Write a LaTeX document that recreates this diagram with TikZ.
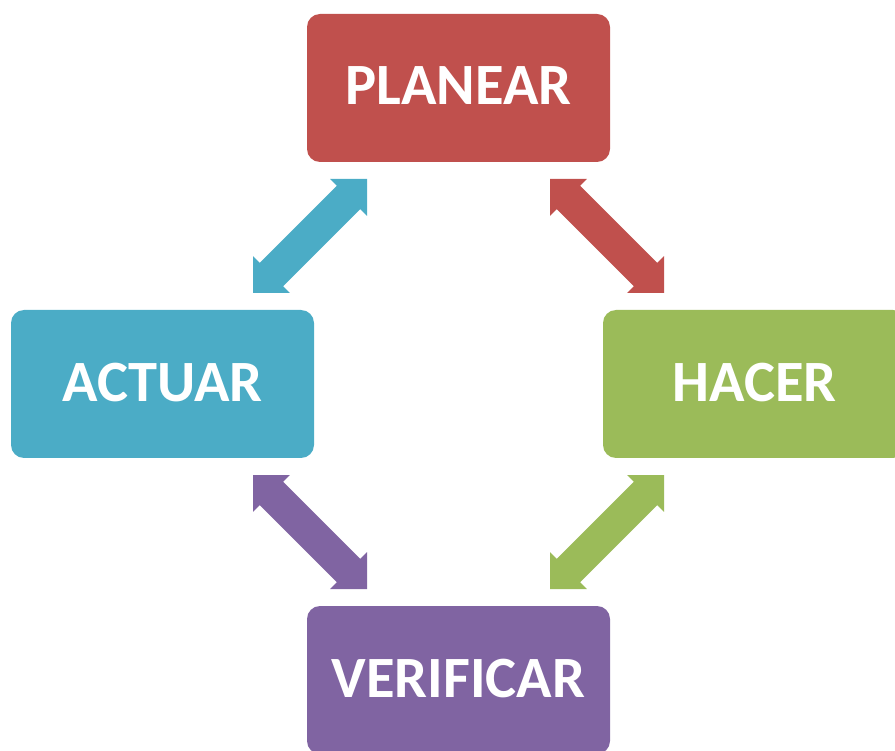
\documentclass[tikz,border=0pt]{standalone}
\usepackage{fontspec}
\setmainfont{Carlito}
\usetikzlibrary{calc}
\definecolor{cred}{HTML}{C0504D}
\definecolor{cblue}{HTML}{4BACC6}
\definecolor{cgreen}{HTML}{9BBB59}
\definecolor{cpurple}{HTML}{8064A2}
\tikzset{
  stagebox/.style={rectangle, rounded corners=13pt, minimum width=303pt,
    minimum height=148pt, inner sep=0pt, text=white, text depth=4pt,
    font=\fontsize{58.5}{60}\selectfont\bfseries}
}
\newcommand\dblarr[3]{%
  \fill[#3] (#1)
    -- ($(#1)!26pt!(#2)!26pt!90:(#2)$)
    -- ($(#1)!26pt!(#2)!16.5pt!90:(#2)$)
    -- ($(#2)!26pt!(#1)!16.5pt!-90:(#1)$)
    -- ($(#2)!26pt!(#1)!26pt!-90:(#1)$)
    -- (#2)
    -- ($(#2)!26pt!(#1)!26pt!90:(#1)$)
    -- ($(#2)!26pt!(#1)!16.5pt!90:(#1)$)
    -- ($(#1)!26pt!(#2)!16.5pt!-90:(#2)$)
    -- ($(#1)!26pt!(#2)!26pt!-90:(#2)$)
    -- cycle;}
\begin{document}
\begin{tikzpicture}[x=1pt,y=-1pt]
\useasboundingbox (0,0) rectangle (895,751);
\begin{scope}
\clip (0,0) rectangle (895,751);
\node[stagebox, fill=cred] (planear) at (458.5,88) {PLANEAR};
\node[stagebox, fill=cblue] (actuar) at (162.5,384) {ACTUAR};
\node[stagebox, fill=cgreen] (hacer) at (754.5,384) {HACER};
\node[stagebox, fill=cpurple] (verificar) at (458.5,680) {VERIFICAR};
\end{scope}
\coordinate (b1) at (367,179);
\coordinate (b2) at (253,293);
\coordinate (r1) at (550,179);
\coordinate (r2) at (664,293);
\coordinate (g1) at (664,475);
\coordinate (g2) at (550,589);
\coordinate (p1) at (253,475);
\coordinate (p2) at (367,589);
\dblarr{b1}{b2}{cblue}
\dblarr{r1}{r2}{cred}
\dblarr{g1}{g2}{cgreen}
\dblarr{p1}{p2}{cpurple}
\end{tikzpicture}
\end{document}
